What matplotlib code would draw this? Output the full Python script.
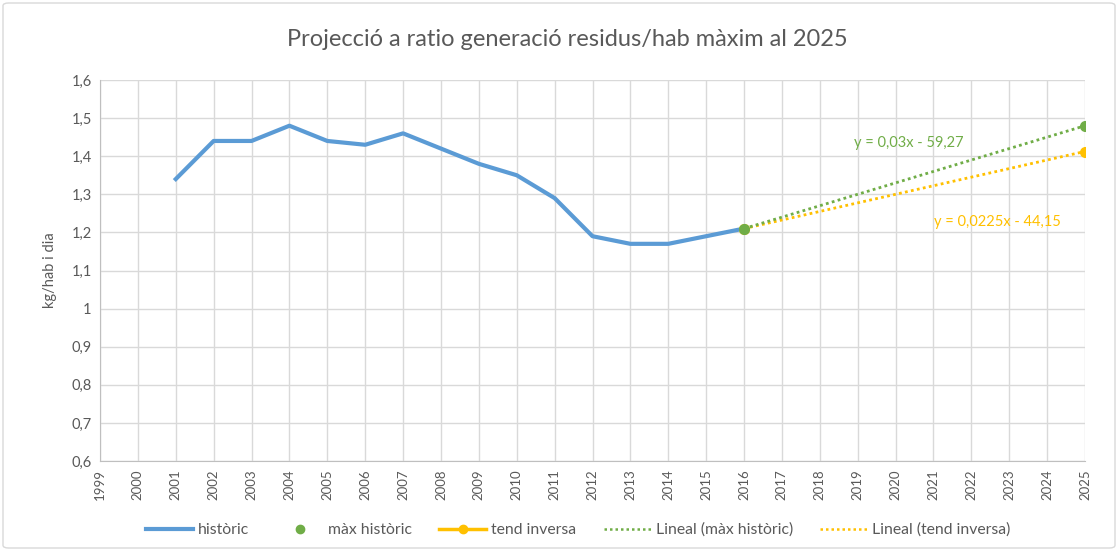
import matplotlib
matplotlib.use("Agg")
import matplotlib.pyplot as plt
from matplotlib.patches import FancyBboxPatch
from matplotlib.lines import Line2D

plt.rcParams['font.family'] = ['Lato', 'DejaVu Sans']

years = list(range(1999, 2026))
hist_years = list(range(2001, 2017))
historic = [1.34, 1.44, 1.44, 1.48, 1.44, 1.43, 1.46, 1.42, 1.38, 1.35, 1.29, 1.19, 1.17, 1.17, 1.19, 1.21]
max_years = [2016, 2025]
max_hist = [1.21, 1.48]
tend_years = [2016, 2025]
tend_inv = [1.21, 1.41]
slope_max, icpt_max = 0.03, -59.27
slope_inv, icpt_inv = 0.0225, -44.15

blue = '#5b9bd5'
green = '#70ad47'
orange = '#ffc000'
grid = '#d9d9d9'
txt = '#595959'

fig = plt.figure(figsize=(11.19, 5.51), dpi=100)
W, H = 1119, 551
ax = fig.add_axes([100 / W, 1 - 461 / H, 985 / W, 381 / H])

# border
fig.patches.append(FancyBboxPatch((3 / W, 3 / H), 1112 / W, 545 / H,
                                  boxstyle="round,pad=0,rounding_size=0.005",
                                  transform=fig.transFigure, fill=False,
                                  edgecolor=grid, linewidth=1))

ax.plot(hist_years, historic, color=blue, lw=3, solid_joinstyle='round', zorder=3)
tx = [tend_years[0], tend_years[-1]]
ax.plot(tx, [slope_inv * x + icpt_inv for x in tx], color=orange, lw=2, ls=(0, (1, 1.2)), zorder=3)
ax.plot(tx, [slope_max * x + icpt_max for x in tx], color=green, lw=2, ls=(0, (1, 1.2)), zorder=3)
ax.plot(tend_years, tend_inv, ls='none', marker='o', ms=7, color=orange, zorder=4)
ax.plot(max_years, max_hist, ls='none', marker='o', ms=7, color=green, zorder=5)

ax.text(2020.36, 1.435, 'y = 0,03x - 59,27', color=green, fontsize=10.5, ha='center', va='center')
ax.text(2022.69, 1.227, 'y = 0,0225x - 44,15', color=orange, fontsize=10.5, ha='center', va='center')

ax.set_xlim(1999, 2025)
ax.set_ylim(0.6, 1.6)
ax.set_xticks(years)
ax.set_xticklabels([str(y) for y in years], rotation=90, fontsize=9.5, color=txt)
yt = [0.6 + 0.1 * i for i in range(11)]
ax.set_yticks(yt)
ax.set_yticklabels(['1' if abs(v - 1) < 1e-9 else ('%.1f' % v).replace('.', ',') for v in yt],
                   fontsize=10.5, color=txt)
ax.tick_params(length=0, pad=6)
ax.grid(True, color=grid, lw=1)
ax.set_axisbelow(True)
for s in ['top', 'right']:
    ax.spines[s].set_visible(False)
for s in ['left', 'bottom']:
    ax.spines[s].set_color('#bfbfbf')
ax.set_ylabel('kg/hab i dia', fontsize=10.5, color=txt, labelpad=10)

fig.text(0.5 + 8 / W, 1 - 40 / H, 'Projecció a ratio generació residus/hab màxim al 2025',
         ha='center', va='center', fontsize=17, color=txt)

handles = [
    Line2D([], [], color=blue, lw=3),
    Line2D([], [], ls='none', marker='o', ms=6, color=green),
    Line2D([], [], color=orange, lw=2.5, marker='o', ms=6),
    Line2D([], [], color=green, lw=1.8, ls=(0, (1, 1.2))),
    Line2D([], [], color=orange, lw=1.8, ls=(0, (1, 1.2))),
]
labels = ['històric', 'màx històric', 'tend inversa', 'Lineal (màx històric)', 'Lineal (tend inversa)']
leg = fig.legend(handles, labels, loc='center', bbox_to_anchor=(578 / W, 1 - 530 / H), ncol=5,
                 frameon=False, fontsize=11.3, handlelength=3.0, columnspacing=1.75, handletextpad=0.3)
for t in leg.get_texts():
    t.set_color(txt)

fig.savefig('out.png', dpi=100)
